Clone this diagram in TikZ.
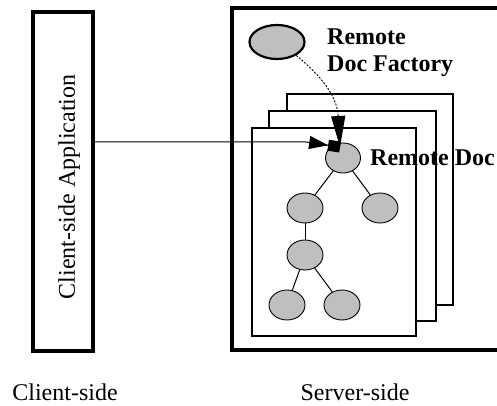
\documentclass[tikz,border=0pt]{standalone}
\usepackage{fontspec}
\setmainfont{Liberation Serif}
\usetikzlibrary{arrows.meta,shapes.geometric}
\begin{document}
\begin{tikzpicture}[x=1pt,y=-1pt,
  frame/.style={draw, line width=3.5pt, fill=white, inner sep=0pt},
  page/.style={draw, line width=1.6pt, fill=white, inner sep=0pt},
  doc/.style={ellipse, draw, line width=0.9pt, fill=black!25,
    minimum width=36pt, minimum height=30pt, inner sep=0pt},
  edge/.style={line width=1pt},
  lbl/.style={font=\fontsize{24}{27}\selectfont, inner sep=0pt},
  blbl/.style={font=\fontsize{24}{27}\selectfont\bfseries, inner sep=0pt},
  bighead/.style={arrows={-Triangle[length=31pt, width=14pt]}},
  blockhead/.style={arrows={-{Triangle[length=19pt, width=13pt, sep=0pt]
      Rectangle[length=12pt, width=11pt, sep=0pt]}}},
  ]
\useasboundingbox (0,0) rectangle (497,406);
\clip (0,0) rectangle (497,406);

% client side
\node[frame, minimum width=60pt, minimum height=339pt] (client) at (63,181.5) {};
\node[lbl, rotate=90] (apptext) at (69,187) {Client-side Application};

% server side (box runs past the right edge)
\node[frame, minimum width=300pt, minimum height=342pt] (server) at (382,179) {};

% stack of documents
\node[page, minimum width=166pt, minimum height=211pt] (page3) at (370,199.5) {};
\node[page, minimum width=167pt, minimum height=210pt] (page2) at (352.5,216) {};
\node[page, minimum width=164pt, minimum height=208pt] (page1) at (334,232) {};

% factory
\node[doc, line width=2.2pt, minimum width=55pt, minimum height=34pt] (fac) at (277,42) {};
\node[blbl, anchor=base west] (facl1) at (327,45) {Remote};
\node[blbl, anchor=base west] (facl2) at (327,72) {Doc Factory};

% document tree
\node[doc, minimum width=35pt] (root) at (343,158) {};
\node[blbl, anchor=base west] (rootl) at (370,165) {Remote Doc};
\node[doc] (c1) at (305,208) {};
\node[doc] (c2) at (380,208) {};
\node[doc] (m) at (305,255) {};
\node[doc] (b1) at (287,305) {};
\node[doc] (b2) at (342,305) {};

\draw[edge] (root) -- (c1);
\draw[edge] (root) -- (c2);
\draw[edge] (c1) -- (m);
\draw[edge] (m) -- (b1);
\draw[edge] (m) -- (b2);

% both references meet at the top of the root document
\coordinate (hit) at ([xshift=-3pt,yshift=11pt]root.center);

% connectors
\draw[edge, blockhead] (client.east |- 0,142) -- (306,142) -- (hit);
\draw[line width=0.9pt, dash pattern=on 2pt off 1.5pt, bighead]
  (fac.-35) .. controls (320,75) and (337,95) .. (hit);

% captions
\node[lbl, anchor=base] (cside) at (65,400) {Client-side};
\node[lbl, anchor=base] (sside) at (355,400) {Server-side};
\end{tikzpicture}
\end{document}
